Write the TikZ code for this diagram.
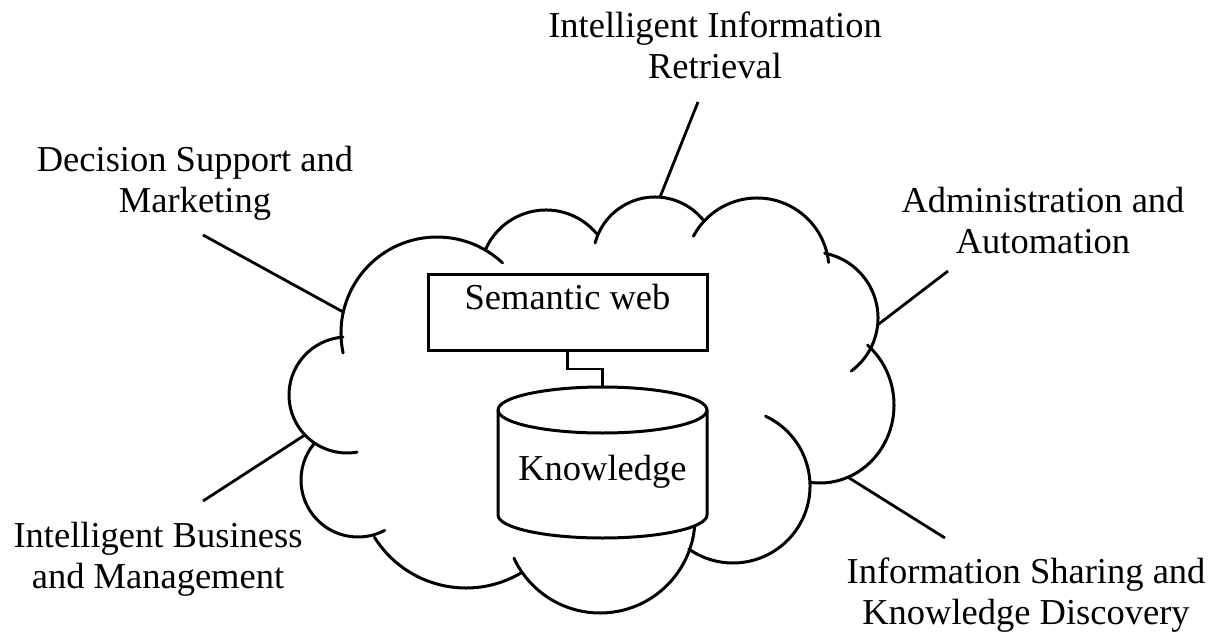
\documentclass[tikz,border=0pt]{standalone}
\usepackage{fontspec}
\setmainfont{Liberation Serif}
\usetikzlibrary{calc}
\begin{document}
\begin{tikzpicture}[x=1pt,y=-1pt,
  cloudline/.style={line width=3pt,line cap=round},
  shapeline/.style={line width=3pt},
  link/.style={line width=2.8pt},
  lbl/.style={font=\fontsize{36.5}{41}\selectfont,align=center,inner sep=0pt,outer sep=0pt}]
\useasboundingbox (0,0) rectangle (1222,639);

% centres of the cloud bumps
\coordinate (cA) at (437,333);
\coordinate (cB) at (546,276);
\coordinate (cC) at (655,259);
\coordinate (cD) at (757,270);
\coordinate (cE) at (812,318);
\coordinate (cF) at (820,405);
\coordinate (cG) at (733,486);
\coordinate (cH) at (600,518);
\coordinate (cI) at (466,480);
\coordinate (cJ) at (358,480);
\coordinate (cK) at (347,395);

% cloud outline, one arc per bump
\draw[cloudline] (cA) ++(168:96) arc[start angle=168,end angle=313,radius=96];
\draw[cloudline] (cB) ++(203:66) arc[start angle=203,end angle=320,radius=66];
\draw[cloudline] (cC) ++(195:62) arc[start angle=195,end angle=322,radius=62];
\draw[cloudline] (cD) ++(208:72) arc[start angle=208,end angle=354,radius=72];
\draw[cloudline] (cE) ++(281:66) arc[start angle=281,end angle=413.5,radius=66];
\draw[cloudline] (cF) ++(310:74 and 78) arc[start angle=310,end angle=457,x radius=74,y radius=78];
\draw[cloudline] (cG) ++(295:77) arc[start angle=295,end angle=485,radius=77];
\draw[cloudline] (cH) ++(-5:95) arc[start angle=-5,end angle=155,radius=95];
\draw[cloudline] (cI) ++(148:108) arc[start angle=148,end angle=59,radius=108];
\draw[cloudline] (cJ) ++(220:57) arc[start angle=220,end angle=62,radius=57];
\draw[cloudline] (cK) ++(266:58) arc[start angle=266,end angle=80,radius=58];

% knowledge store (cylinder)
\filldraw[shapeline,fill=white] (498,410) -- (498,515)
  arc[start angle=180,end angle=0,x radius=104.5,y radius=23] -- (707,410)
  arc[start angle=0,end angle=-180,x radius=104.5,y radius=23] -- cycle;
\draw[shapeline] (498,410) arc[start angle=180,end angle=0,x radius=104.5,y radius=23];
\node[lbl,minimum width=209pt,minimum height=151pt,text height=42pt,text depth=7pt]
  (kb) at (602.5,462.5) {Knowledge};

% semantic web layer
\node[lbl,draw,shapeline,minimum width=279pt,text height=35pt,text depth=41pt,anchor=north]
  (sw) at (567.5,274) {Semantic web};
\draw[link] (sw.south) -- ++(0,19) -| (kb.north);

% application areas
\node[lbl] (lret) at (715,45) {Intelligent Information\\Retrieval};
\node[lbl] (ldec) at (195,183) {Decision Support and\\Marketing};
\node[lbl] (ladm) at (1043,220.5) {Administration and\\Automation};
\node[lbl] (lbus) at (158,559.5) {Intelligent Business\\and Management};
\node[lbl] (linf) at (1026,595) {Information Sharing and\\Knowledge Discovery};

% connector ends near the labels
\coordinate (ret-end) at (698,102);
\coordinate (dec-end) at (203,235);
\coordinate (adm-end) at (948,271);
\coordinate (bus-end) at (203,501);
\coordinate (inf-end) at (945,538);

% connector ends on the cloud
\coordinate (ret-hit) at ($(cC)+(274.6:62)$);
\coordinate (dec-hit) at ($(cA)+(192.6:96)$);
\coordinate (adm-hit) at ($(cE)+(6:66)$);
\coordinate (bus-hit) at ($(cK)+(136.5:58)$);
\coordinate (inf-hit) at ($(cF)+(67.8:74 and 78)$);

\draw[link] (ret-end) -- (ret-hit);
\draw[link] (dec-end) -- (dec-hit);
\draw[link] (adm-end) -- (adm-hit);
\draw[link] (bus-end) -- (bus-hit);
\draw[link] (inf-end) -- (inf-hit);
\end{tikzpicture}
\end{document}
